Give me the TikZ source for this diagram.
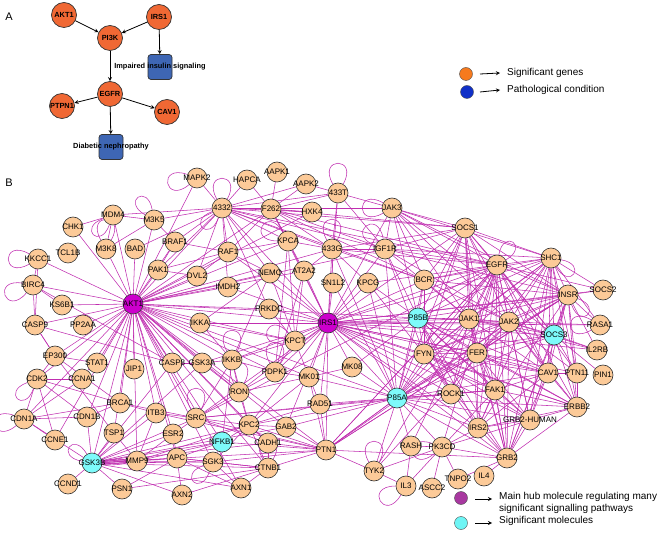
\documentclass[tikz,border=0pt]{standalone}
\usepackage{fontspec}
\setmainfont{Liberation Sans}
\usetikzlibrary{backgrounds}
\definecolor{peach}{RGB}{252,202,152}
\definecolor{hubmag}{RGB}{204,0,204}
\definecolor{sigcyan}{RGB}{125,250,250}
\definecolor{linkmag}{RGB}{192,46,176}
\definecolor{orangeA}{RGB}{240,104,52}
\definecolor{blueA}{RGB}{62,102,180}
\definecolor{legorange}{RGB}{246,122,30}
\definecolor{legblue}{RGB}{16,48,200}
\definecolor{legmag}{RGB}{168,56,160}
\definecolor{legcyan}{RGB}{110,245,245}

\begin{document}
\begin{tikzpicture}[x=1pt, y=-1pt]
\tikzstyle{gene} = [circle, draw=black!80, line width=0.6pt, fill=peach, minimum size=20pt, inner sep=0pt, label={[font=\fontsize{8}{9}\selectfont, text=black]center:#1}]
\tikzstyle{hub} = [gene=#1, fill=hubmag]
\tikzstyle{sig} = [gene=#1, fill=sigcyan]
\tikzstyle{sgene} = [circle, draw=black!80, line width=0.7pt, fill=orangeA, minimum size=25pt, inner sep=0pt, font=\bfseries\fontsize{7.4}{8}\selectfont]
\tikzstyle{cond} = [rectangle, rounded corners=3pt, draw=black!80, line width=0.7pt, fill=blueA, minimum width=24pt, minimum height=25pt]
\tikzstyle{arrow} = [->, >=stealth, line width=0.8pt]
\tikzstyle{legarrow} = [->, >=stealth, line width=0.8pt]
\tikzstyle{legtext} = [anchor=west, align=left, inner sep=0pt, font=\fontsize{10}{12}\selectfont]
\tikzstyle{link} = [draw=linkmag, line width=0.55pt]
\tikzstyle{ring} = [looseness=8, min distance=12pt]

\useasboundingbox (0,0) rectangle (661,534);

% panel A
\node (labA) [font=\fontsize{11}{12}\selectfont] at (9,17) {A};
\node (akt) [sgene] at (64,15) {AKT1};
\node (irsa) [sgene] at (159,17) {IRS1};
\node (pik) [sgene] at (110,38) {PI3K};
\node (insul) [cond, label={[font=\bfseries\fontsize{7.4}{8}\selectfont]center:Impaired insulin signaling}] at (160,67) {};
\node (egfra) [sgene] at (110,94) {EGFR};
\node (ptpn) [sgene] at (62,106) {PTPN1};
\node (cava) [sgene] at (167,112) {CAV1};
\node (dneph) [cond, label={[font=\bfseries\fontsize{7.4}{8}\selectfont]center:Diabetic nephropathy}] at (111,147) {};

\draw [arrow] (akt) -- (pik);
\draw [arrow] (irsa) -- (pik);
\draw [arrow] (irsa) -- (insul);
\draw [arrow] (pik) -- (egfra);
\draw [arrow] (egfra) -- (ptpn);
\draw [arrow] (egfra) -- (cava);
\draw [arrow] (egfra) -- (dneph);

% legend A
\node (lgene) [circle, draw=black!70, fill=legorange, minimum size=13pt, inner sep=0pt] at (466,74) {};
\node (lpath) [circle, draw=black!70, fill=legblue, minimum size=13pt, inner sep=0pt] at (467,92) {};
\coordinate (ga) at (480,74);
\coordinate (pa) at (480,92);
\node (lgtxt) [legtext] at (507,73) {Significant genes};
\node (lptxt) [legtext] at (507,90) {Pathological condition};
\draw [legarrow] (ga) -- ([xshift=-7pt]lgtxt.west);
\draw [legarrow] (pa) -- ([xshift=-7pt]lptxt.west);

% panel B
\node (labB) [font=\fontsize{11}{12}\selectfont] at (9,183) {B};
\node [gene=MAPK2] (mapk2) at (197,178) {};
\node [gene=HAPCA] (hapca) at (247,180) {};
\node [gene=AAPK1] (aapk1) at (277,172) {};
\node [gene=AAPK2] (aapk2) at (306,184) {};
\node [gene=433T] (n433t) at (338,193) {};
\node [gene=4332] (n4332) at (222,208) {};
\node [gene=F262] (f262) at (271,209) {};
\node [gene=HXK4] (hxk4) at (312,212) {};
\node [gene=JAK3] (jak3) at (392,208) {};
\node [gene=SOCS1] (socs1) at (465,228) {};
\node [gene=MDM4] (mdm4) at (113,215) {};
\node [gene=M3K5] (m3k5) at (154,220) {};
\node [gene=CHK1] (chk1) at (73,227) {};
\node [gene=TCL1B] (tcl1b) at (68,253) {};
\node [gene=M3K8] (m3k8) at (106,249) {};
\node [gene=BAD] (bad) at (135,249) {};
\node [gene=BRAF1] (braf1) at (175,242) {};
\node [gene=KKCC1] (kkcc1) at (38,259) {};
\node [gene=PAK1] (pak1) at (158,270) {};
\node [gene=DVL2] (dvl2) at (197,276) {};
\node [gene=BIRC4] (birc4) at (33,285) {};
\node [gene=RAF1] (raf1) at (228,252) {};
\node [gene=KPCA] (kpca) at (288,241) {};
\node [gene=433G] (n433g) at (332,249) {};
\node [gene=IGF1R] (igf1r) at (385,249) {};
\node [gene=NEMO] (nemo) at (270,273) {};
\node [gene=AT2A2] (at2a2) at (304,271) {};
\node [gene=SN1L2] (sn1l2) at (333,283) {};
\node [gene=KPCG] (kpcg) at (368,283) {};
\node [gene=BCR] (bcr) at (424,280) {};
\node [gene=EGFR] (egfr) at (497,265) {};
\node [gene=SHC1] (shc1) at (551,258) {};
\node [gene=SOCS2] (socs2) at (603,290) {};
\node [gene=INSR] (insr) at (568,295) {};
\node [gene=IMDH2] (imdh2) at (228,287) {};
\node [gene=PRKDC] (prkdc) at (269,309) {};
\node [hub=AKT1] (akt1) at (133,304) {};
\node [gene=KS6B1] (ks6b1) at (62,305) {};
\node [gene=IKKA] (ikka) at (200,323) {};
\node [gene=CASP9] (casp9) at (35,325) {};
\node [gene=PP2AA] (pp2aa) at (83,325) {};
\node [hub=IRS1] (irs1) at (328,323) {};
\node [sig=P85B] (p85b) at (418,318) {};
\node [gene=JAK1] (jak1) at (469,319) {};
\node [gene=JAK2] (jak2) at (509,322) {};
\node [gene=RASA1] (rasa1) at (600,325) {};
\node [sig=SOCS3] (socs3) at (554,335) {};
\node [gene=KPCT] (kpct) at (295,341) {};
\node [gene=FYN] (fyn) at (424,354) {};
\node [gene=FER] (fer) at (477,353) {};
\node [gene=IL2RB] (il2rb) at (597,350) {};
\node [gene=EP300] (ep300) at (55,356) {};
\node [gene=STAT1] (stat1) at (97,363) {};
\node [gene=JIP1] (jip1) at (134,369) {};
\node [gene=CASP8] (casp8) at (172,363) {};
\node [gene=GSK3A] (gsk3a) at (202,363) {};
\node [gene=IKKB] (ikkb) at (232,360) {};
\node [gene=PDPK1] (pdpk1) at (275,372) {};
\node [gene=MK01] (mk01) at (309,377) {};
\node [gene=MK08] (mk08) at (352,367) {};
\node [gene=CAV1] (cav1) at (548,373) {};
\node [gene=PTN11] (ptn11) at (577,373) {};
\node [gene=PIN1] (pin1) at (603,375) {};
\node [gene=CDK2] (cdk2) at (37,379) {};
\node [gene=CCNA1] (ccna1) at (82,379) {};
\node [gene=RON] (ron) at (239,392) {};
\node [sig=P85A] (p85a) at (397,398) {};
\node [gene=ROCK1] (rock1) at (451,394) {};
\node [gene=FAK1] (fak1) at (495,390) {};
\node [gene=BRCA1] (brca1) at (120,403) {};
\node [gene=RAD51] (rad51) at (320,404) {};
\node [gene=ERBB2] (erbb2) at (577,407) {};
\node [gene=CDN1A] (cdn1a) at (24,419) {};
\node [gene=CDN1B] (cdn1b) at (87,417) {};
\node [gene=ITB3] (itb3) at (156,413) {};
\node [gene=SRC] (src) at (196,418) {};
\node [gene=GRB2-HUMAN] (grbh) at (530,420) {};
\node [gene=KPC2] (kpc2) at (249,425) {};
\node [gene=GAB2] (gab2) at (286,427) {};
\node [gene=IRS2] (irs2) at (478,428) {};
\node [gene=CCNE1] (ccne1) at (55,440) {};
\node [gene=TSP1] (tsp1) at (114,433) {};
\node [gene=ESR2] (esr2) at (173,434) {};
\node [sig=NFKB1] (nfkb1) at (222,442) {};
\node [gene=CADH1] (cadh1) at (268,443) {};
\node [gene=PTN1] (ptn1) at (326,450) {};
\node [gene=RASH] (rash) at (411,446) {};
\node [gene=PK3CD] (pk3cd) at (442,447) {};
\node [gene=GRB2] (grb2) at (507,458) {};
\node [sig=GSK3B] (gsk3b) at (92,463) {};
\node [gene=MMP9] (mmp9) at (137,461) {};
\node [gene=APC] (apc) at (177,458) {};
\node [gene=SGK3] (sgk3) at (213,462) {};
\node [gene=CTNB1] (ctnb1) at (268,468) {};
\node [gene=TYK2] (tyk2) at (374,471) {};
\node [gene=IL3] (il3) at (406,486) {};
\node [gene=ASCC2] (ascc2) at (432,488) {};
\node [gene=TNPO2] (tnpo2) at (458,479) {};
\node [gene=IL4] (il4) at (484,476) {};
\node [gene=CCND1] (ccnd1) at (68,484) {};
\node [gene=PSN1] (psn1) at (122,489) {};
\node [gene=AXN2] (axn2) at (182,495) {};
\node [gene=AXN1] (axn1) at (241,488) {};

\begin{pgfonlayer}{background}
% hubs
\foreach \t in {mapk2, n4332, raf1, f262, kpca, n433g, hxk4, mdm4, m3k5, m3k8, bad, braf1, pak1, dvl2, kkcc1, birc4, ks6b1, casp9, pp2aa, ep300, stat1, jip1, casp8, gsk3a, ikka, ikkb, nemo, imdh2, prkdc, kpct, irs1, cdk2, ccna1, brca1, cdn1a, cdn1b, ccne1, tsp1, itb3, src, esr2, gsk3b, mmp9, apc, sgk3, kpc2, nfkb1, ctnb1, ron, pdpk1, mk01, ptn1, cadh1, p85a, p85b, igf1r, at2a2, axn1, gab2, chk1}
  \draw [link] (akt1) -- (\t);
\foreach \t in {n4332, f262, n433t, n433g, jak3, igf1r, sn1l2, kpcg, bcr, p85b, p85a, jak1, jak2, socs1, socs3, insr, egfr, shc1, fyn, fer, mk08, mk01, rad51, ptn1, kpct, prkdc, ikka, ikkb, pdpk1, ron, kpc2, gab2, rock1, fak1, cav1, grb2, irs2, grbh, erbb2, socs2, rasa1, ptn11, il2rb, gsk3a, kpca, at2a2, nemo, raf1, src, imdh2}
  \draw [link] (irs1) -- (\t);
% top
\foreach \t in {f262, hapca, mapk2, n433t, raf1, braf1, kpca, m3k5, mdm4, bad, igf1r, socs1, jak3, n433g, egfr, hxk4, aapk2, pak1, imdh2, nemo, bcr, dvl2, prkdc}
  \draw [link] (n4332) -- (\t);
\foreach \t in {aapk1, aapk2, n433t, hxk4, kpca, n433g, igf1r, bcr, egfr, raf1, socs1, hapca, at2a2}
  \draw [link] (f262) -- (\t);
\foreach \t in {n433g, igf1r, jak3, aapk2}
  \draw [link] (n433t) -- (\t);
\foreach \t in {igf1r, kpca, sn1l2, bcr, p85a, egfr, kpcg, at2a2, socs1}
  \draw [link] (n433g) -- (\t);
\foreach \t in {igf1r, bcr, socs1, egfr, jak1, jak2, p85b, shc1, socs3, insr}
  \draw [link] (jak3) -- (\t);
% right
\foreach \t in {egfr, shc1, insr, jak1, jak2, socs3, p85a, p85b, bcr, fyn, fer, igf1r, cav1, grb2, irs2}
  \draw [link] (socs1) -- (\t);
\foreach \t in {shc1, insr, jak1, jak2, socs3, p85a, p85b, bcr, fyn, fer, cav1, fak1, erbb2, grb2, grbh, irs2, ptn11, rock1, pk3cd, rash, ptn1, socs2, igf1r, kpcg}
  \draw [link] (egfr) -- (\t);
\foreach \t in {insr, socs3, jak1, jak2, p85a, p85b, cav1, ptn11, fer, fyn, erbb2, grb2, grbh, rasa1, socs2, irs2, igf1r, bcr}
  \draw [link] (shc1) -- (\t);
\foreach \t in {socs2, rasa1, socs3, jak1, jak2, p85a, p85b, ptn11, fyn, fer, cav1, erbb2, grb2, grbh, irs2, ptn1, igf1r, bcr, il2rb}
  \draw [link] (insr) -- (\t);
\foreach \t in {jak2, p85b, p85a, fyn, fer, socs3, il2rb, tyk2, cav1, fak1, rock1, bcr, igf1r, grb2}
  \draw [link] (jak1) -- (\t);
\foreach \t in {socs3, p85a, p85b, fyn, fer, il2rb, tyk2, cav1, fak1, erbb2, grb2, grbh, ptn11, rasa1, bcr, igf1r}
  \draw [link] (jak2) -- (\t);
\foreach \t in {fer, fyn, cav1, ptn11, pin1, erbb2, grb2, p85a, il2rb}
  \draw [link] (socs3) -- (\t);
\foreach \t in {p85a, fyn, fer, bcr, igf1r, kpcg, cav1, fak1, erbb2, grb2, grbh, irs2, rock1, mk08}
  \draw [link] (p85b) -- (\t);
\foreach \t in {fyn, fer, rock1, fak1, cav1, erbb2, grb2, grbh, irs2, pk3cd, rash, tyk2, ptn1, rad51, mk01, mk08, bcr, igf1r, kpcg, sn1l2, gab2, kpc2}
  \draw [link] (p85a) -- (\t);
\foreach \t in {fer, fak1, rock1, cav1, erbb2, grbh, grb2, irs2, bcr, igf1r, kpcg}
  \draw [link] (fyn) -- (\t);
\foreach \t in {fak1, rock1, cav1, erbb2, grbh, grb2, irs2}
  \draw [link] (fer) -- (\t);
\foreach \t in {fak1, erbb2, grbh, grb2, ptn11, irs2}
  \draw [link] (cav1) -- (\t);
\foreach \t in {erbb2, grbh, grb2, irs2, rock1, pk3cd}
  \draw [link] (fak1) -- (\t);
\foreach \t in {grbh, grb2, ptn11, irs2}
  \draw [link] (erbb2) -- (\t);
\foreach \t in {grb2, irs2, pk3cd}
  \draw [link] (grbh) -- (\t);
\foreach \t in {irs2, pk3cd, tnpo2, ptn1, il4}
  \draw [link] (grb2) -- (\t);
\foreach \t in {rash, il3, ascc2, tnpo2, tyk2, irs2}
  \draw [link] (pk3cd) -- (\t);
\draw [link] (rash) -- (il3);
\draw [link] (tyk2) -- (il3);
\foreach \t in {rad51, gab2, kpc2, cadh1, ctnb1, mk01, tyk2, p85a, insr, egfr, jak2, src, nfkb1, sgk3, itb3, gsk3b}
  \draw [link] (ptn1) -- (\t);
% left
\foreach \t in {mdm4, braf1, m3k8}
  \draw [link] (m3k5) -- (\t);
\draw [link] (mdm4) -- (chk1);
\draw [link] (mdm4) -- (m3k8);
\draw [link] (braf1) -- (raf1);
\draw [link] (braf1) -- (pak1);
\draw [link] (pak1) -- (raf1);
\draw [link] (pak1) -- (dvl2);
\foreach \t in {cdn1b, ccne1, cdk2, ccna1, brca1, gsk3b}
  \draw [link] (cdn1a) -- (\t);
\foreach \t in {ccna1, ccne1, cdn1b, brca1, ep300}
  \draw [link] (cdk2) -- (\t);
\foreach \t in {stat1, casp9, brca1, tsp1}
  \draw [link] (ep300) -- (\t);
\foreach \t in {cdn1b, itb3, src}
  \draw [link] (brca1) -- (\t);
\draw [link] (kkcc1) -- (birc4);
\draw [link] (kkcc1) -- (casp9);
\foreach \t in {casp9, casp8, ks6b1}
  \draw [link] (birc4) -- (\t);
\draw [link] (casp9) -- (casp8);
\draw [link] (casp9) -- (ep300);
\draw [link] (casp8) -- (gsk3a);
% bottom
\foreach \b in {-9,-5,0,5,9}
  \draw [link] (gsk3b) to[bend left=\b] (mmp9);
\foreach \t in {apc, sgk3, nfkb1, kpc2, ctnb1, cadh1, psn1, ccnd1, axn2, axn1, tsp1, cdn1b, esr2, itb3, src, gab2, gsk3a, casp8}
  \draw [link] (gsk3b) -- (\t);
\foreach \t in {apc, sgk3, kpc2, nfkb1, itb3, esr2, tsp1}
  \draw [link] (mmp9) -- (\t);
\foreach \t in {sgk3, ctnb1, axn2, axn1, nfkb1, esr2, psn1}
  \draw [link] (apc) -- (\t);
\foreach \t in {ctnb1, nfkb1, kpc2, axn1}
  \draw [link] (sgk3) -- (\t);
\foreach \t in {cadh1, axn1, axn2, kpc2, psn1}
  \draw [link] (ctnb1) -- (\t);
\foreach \t in {itb3, esr2, kpc2, cadh1, p85a, fak1, ron, ikkb, egfr}
  \draw [link] (src) -- (\t);
\foreach \t in {gab2, cadh1, nfkb1, ron, ikkb, mk01, rad51}
  \draw [link] (kpc2) -- (\t);
% middle
\foreach \t in {ikkb, pdpk1, mk01, gsk3a}
  \draw [link] (ron) -- (\t);
\foreach \t in {ikka, nemo, gsk3a, pdpk1, nfkb1, kpct}
  \draw [link] (ikkb) -- (\t);
\draw [link] (ikka) -- (nemo);
\draw [link] (ikka) -- (kpct);
\foreach \t in {kpct, mk01, kpca, at2a2}
  \draw [link] (pdpk1) -- (\t);
\foreach \t in {mk08, rad51, kpct}
  \draw [link] (mk01) -- (\t);
\foreach \t in {prkdc, kpca, at2a2, nemo}
  \draw [link] (kpct) -- (\t);
\foreach \t in {kpca, dvl2, nemo}
  \draw [link] (raf1) -- (\t);
% self loops
\foreach \n/\o/\i in {mapk2/160/220, n4332/60/120, n4332/200/250, n433t/60/120, jak3/150/210, kkcc1/150/210, birc4/170/230, cdn1a/160/220, m3k5/100/150, mdm4/200/250, kpca/120/180, n433g/60/120, igf1r/100/160, egfr/30/80, shc1/300/350, insr/290/340, m3k8/60/120, ikkb/60/120, pdpk1/60/120, src/60/120, sgk3/200/250, ctnb1/60/120, tyk2/60/120, pk3cd/160/220, il3/180/240, cdk2/200/250, gsk3b/120/170, rasa1/150/210, kpct/130/190, ron/60/120}
  \draw [link] (\n) to[out=\o, in=\i, ring] (\n);
\end{pgfonlayer}

% legend B
\node (lhub) [circle, draw=black!70, fill=legmag, minimum size=13pt, inner sep=0pt] at (461,498) {};
\node (lsig) [circle, draw=black!70, fill=legcyan, minimum size=13pt, inner sep=0pt] at (461,523) {};
\coordinate (ha) at (475,499);
\coordinate (sa) at (475,523);
\node (lhtxt) [legtext] at (499,503) {Main hub molecule regulating many\\significant signalling pathways};
\node (lstxt) [legtext] at (499,521) {Significant molecules};
\draw [legarrow] (ha) -- ([xshift=-7pt]lhtxt.west |- ha);
\draw [legarrow] (sa) -- ([xshift=-7pt]lstxt.west |- sa);
\end{tikzpicture}
\end{document}
